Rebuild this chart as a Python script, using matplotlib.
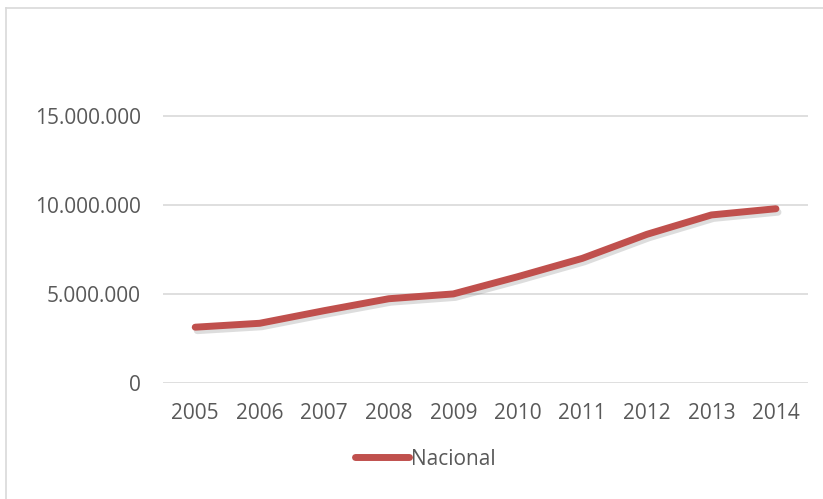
import matplotlib.pyplot as plt
import matplotlib.patheffects as pe
from matplotlib.ticker import FuncFormatter
from matplotlib.lines import Line2D

years = ['2005', '2006', '2007', '2008', '2009', '2010', '2011', '2012', '2013', '2014']
nacional = [3150000, 3370000, 4080000, 4750000, 5020000, 5990000, 7020000, 8370000, 9460000, 9810000]
y_ticks = [0, 5000000, 10000000, 15000000]

plt.rcParams['font.family'] = ['Open Sans', 'DejaVu Sans']
grey_txt = '#595959'
red = '#C0504D'

fig = plt.figure(figsize=(8.23, 4.99), dpi=100)
ax = fig.add_axes([0.198, 0.232, 0.784, 0.713])

x = range(len(years))
ax.plot(x, nacional, color=red, lw=5, solid_capstyle='round', solid_joinstyle='round',
        path_effects=[pe.SimpleLineShadow(offset=(1.5, -2.5), alpha=0.18, shadow_color='#444444'),
                      pe.Normal()], zorder=3)

ax.set_xlim(-0.5, len(years) - 0.5)
ax.set_ylim(0, 20000000)
ax.set_yticks(y_ticks)
ax.yaxis.set_major_formatter(FuncFormatter(lambda v, p: f'{int(v):,}'.replace(',', '.')))
ax.set_xticks(list(x))
ax.set_xticklabels(years)
ax.grid(axis='y', color='#D9D9D9', lw=1.2, zorder=0)
for s in ax.spines.values():
    s.set_visible(False)
ax.tick_params(length=0, labelsize=15, labelcolor=grey_txt)
ax.tick_params(axis='y', pad=16)
ax.tick_params(axis='x', pad=14)

# legend below the plot
handle = Line2D([], [], color=red, lw=5, solid_capstyle='round')
fig.legend([handle], ['Nacional'], loc='center', bbox_to_anchor=(0.517, 0.08),
           frameon=False, fontsize=15, labelcolor=grey_txt, handlelength=2.6, handletextpad=0.1)

# chart border (left and top edges visible)
fig.add_artist(Line2D([6 / 823, 6 / 823], [0, 1 - 8 / 499], transform=fig.transFigure, color='#D9D9D9', lw=1.2))
fig.add_artist(Line2D([6 / 823, 1], [1 - 8 / 499, 1 - 8 / 499], transform=fig.transFigure, color='#D9D9D9', lw=1.2))

fig.savefig('out.png', dpi=100)
